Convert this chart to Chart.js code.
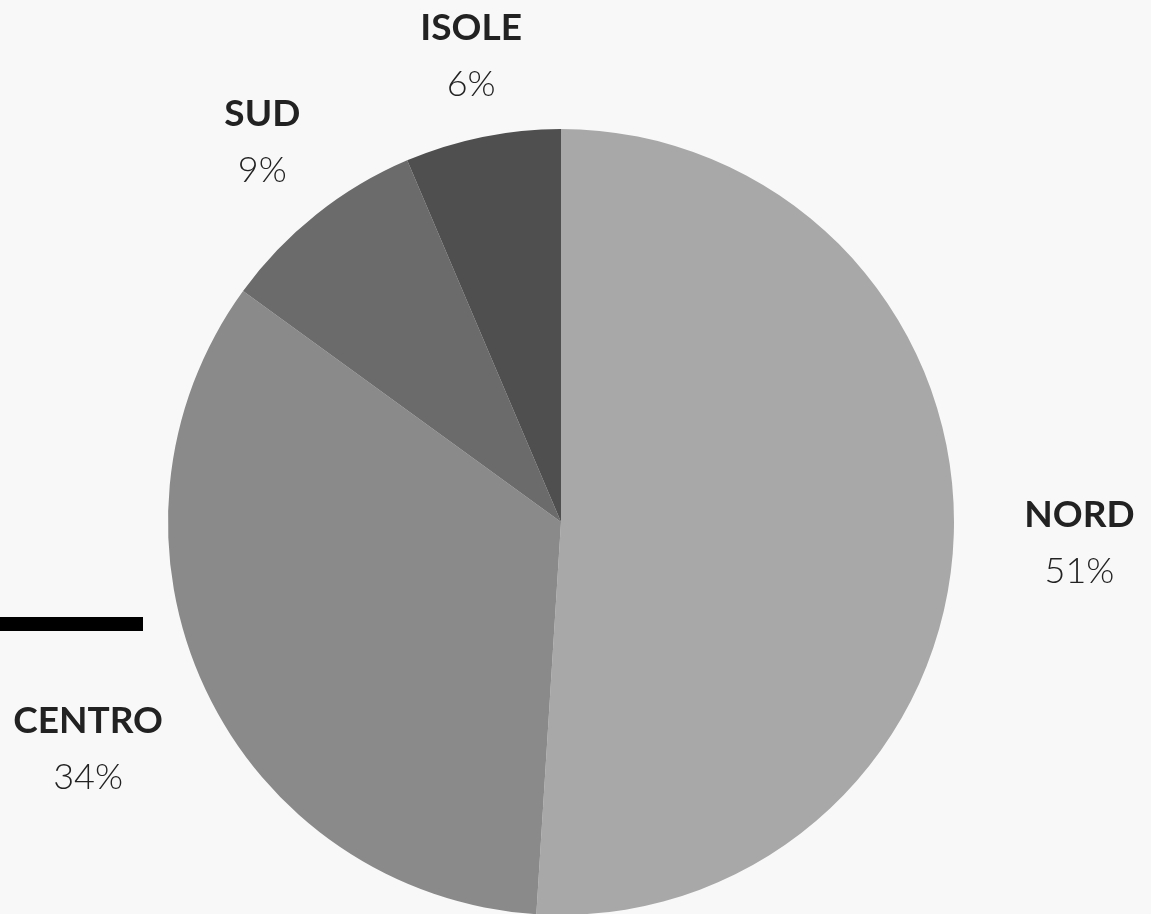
<!DOCTYPE html>
<html>
<head>
<meta charset="utf-8">
<script src="https://cdn.jsdelivr.net/npm/chart.js@4"></script>
<style>
  html, body { margin: 0; padding: 0; background: #f8f8f8; overflow: hidden; }
  #wrap { position: relative; width: 1151px; height: 914px; overflow: hidden; }
  #bar { position: absolute; left: 0; top: 617px; width: 143px; height: 14px; background: #000; }
  canvas { position: absolute; left: 0; top: 0; }
</style>
</head>
<body>
<div id="wrap">
  <canvas id="chart-1" width="1151" height="1000" style="width:1151px;height:1000px"></canvas>
  <div id="bar"></div>
</div>
<script>
var regioni = ["NORD", "CENTRO", "SUD", "ISOLE"];
var percentuali = [51, 34, 8.6, 6.4];
var colori = ['#a8a8a8', '#8a8a8a', '#6b6b6b', '#4f4f4f'];
// distanza etichetta dal centro (in raggi)
var distanza_label = [1.32, 1.33, 1.24, 1.22];

// Etichette esterne (angolo calcolato sulle percentuali arrotondate)
const etichette = {
    id: 'etichette',
    afterDatasetsDraw(chart) {
        const ctx = chart.ctx;
        const meta = chart.getDatasetMeta(0);
        const arrotondate = percentuali.map(v => Math.round(v));
        const totale = arrotondate.reduce((a, b) => a + b, 0);
        let cumul = 0;
        ctx.save();
        ctx.textAlign = 'center';
        ctx.textBaseline = 'middle';
        ctx.fillStyle = '#222222';
        meta.data.forEach(function(arc, i) {
            const mid = -Math.PI / 2 + (cumul + arrotondate[i] / 2) / totale * Math.PI * 2;
            cumul += arrotondate[i];
            const r = arc.outerRadius * distanza_label[i];
            const x = arc.x + Math.cos(mid) * r;
            const y = arc.y + Math.sin(mid) * r;
            ctx.font = 'bold 37px Lato, "Open Sans", sans-serif';
            ctx.fillText(regioni[i], x, y - 23);
            ctx.font = '300 36px Lato, "Open Sans", sans-serif';
            ctx.fillText(arrotondate[i] + '%', x, y + 33);
        });
        ctx.restore();
    }
};

const ctx = document.getElementById("chart-1").getContext("2d");
const myChart = new Chart(ctx, {
    type: "pie",
    data: {
        labels: regioni,
        datasets: [{
            data: percentuali,
            backgroundColor: colori,
            borderWidth: 0,
        }],
    },
    options: {
        responsive: false,
        animation: false,
        layout: {
            padding: { left: 168, right: 197, top: 129, bottom: 85 }
        },
        plugins: {
            legend: { display: false },
            tooltip: { enabled: false },
        },
    },
    plugins: [etichette],
});
</script>
</body>
</html>
